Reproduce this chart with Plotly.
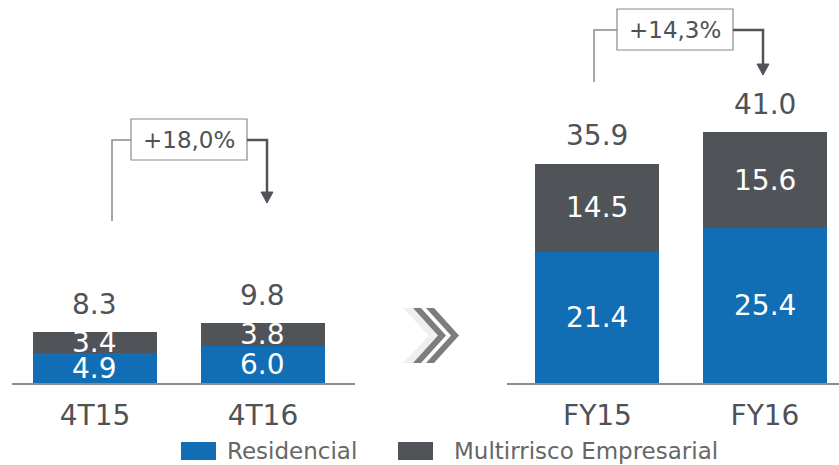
import plotly.graph_objects as go

# ---- data ----
quarters = ["4T15", "4T16"]
years = ["FY15", "FY16"]
series_names = ["Residencial", "Multirrisco Empresarial"]
res_q = [4.9, 6.0]
multi_q = [3.4, 3.8]
total_q = [8.3, 9.8]
res_y = [21.4, 25.4]
multi_y = [14.5, 15.6]
total_y = [35.9, 41.0]
growth_labels = ["+18,0%", "+14,3%"]

# ---- style ----
W, H = 839, 465
BLUE = "#116EB4"
DARK = "#505459"
TXT = "#4E5257"
AXIS = "#8C8C8C"
FONT = "DejaVu Sans"
BASE_PX = 383
PX_PER_UNIT = 6.11
YMAX = BASE_PX / PX_PER_UNIT


def px(x, y):
    return x / W, 1 - y / H


fig = go.Figure()

for xs, res, mul, ax in [(quarters, res_q, multi_q, "x"), (years, res_y, multi_y, "x2")]:
    fig.add_trace(go.Bar(x=list(range(len(xs))), y=res, name=series_names[0], marker_color=BLUE,
                         marker_line_width=0, width=0.74, xaxis=ax, yaxis="y", showlegend=False))
    fig.add_trace(go.Bar(x=list(range(len(xs))), y=mul, name=series_names[1], marker_color=DARK,
                         marker_line_width=0, width=0.74, xaxis=ax, yaxis="y", showlegend=False))

annotations = []
shapes = []

# segment and total labels
for xs, res, mul, tot, ax in [(quarters, res_q, multi_q, total_q, "x"), (years, res_y, multi_y, total_y, "x2")]:
    for i in range(len(xs)):
        annotations.append(dict(x=i, y=res[i] / 2, xref=ax, yref="y", text=f"{res[i]:.1f}", showarrow=False,
                                font=dict(family=FONT, size=28, color="white"), yanchor="middle"))
        annotations.append(dict(x=i, y=res[i] + mul[i] / 2, xref=ax, yref="y", text=f"{mul[i]:.1f}", showarrow=False,
                                font=dict(family=FONT, size=28, color="white"), yanchor="middle"))
        annotations.append(dict(x=i, y=tot[i], xref=ax, yref="y", text=f"{tot[i]:.1f}", showarrow=False,
                                font=dict(family=FONT, size=28, color=TXT), yanchor="middle", yshift=28))

# growth brackets (pixel geometry)
brackets = [
    # left line x, left bottom y, line y, box x0, box x1, box y0, box y1, arrow x, arrow tip y
    (112, 221, 140, 131, 247, 119, 160, 267, 203),
    (594, 82, 30, 617, 733, 9, 50, 763, 75),
]
for (lx, lb, ly, bx0, bx1, by0, by1, arx, tip), lab in zip(brackets, growth_labels):
    x0, y0 = px(lx, lb)
    x1, y1 = px(lx, ly)
    x2, _ = px(bx0, ly)
    shapes.append(dict(type="path", xref="paper", yref="paper",
                       path=f"M{x0},{y0} L{x1},{y1} L{x2},{y1}",
                       line=dict(color="#8A8A8A", width=1.5)))
    a0, b0 = px(bx0, by0)
    a1, b1 = px(bx1, by1)
    shapes.append(dict(type="rect", xref="paper", yref="paper", x0=a0, y0=b1, x1=a1, y1=b0,
                       line=dict(color="#8A8A8A", width=1.2), fillcolor="white"))
    annotations.append(dict(x=(a0 + a1) / 2, y=(b0 + b1) / 2, xref="paper", yref="paper", text=lab,
                            showarrow=False, font=dict(family=FONT, size=23, color=TXT),
                            xanchor="center", yanchor="middle"))
    r0, _ = px(bx1, ly)
    r1, _ = px(arx, ly)
    _, rt = px(arx, tip - 9)
    shapes.append(dict(type="path", xref="paper", yref="paper",
                       path=f"M{r0},{y1} L{r1},{y1} L{r1},{rt}",
                       line=dict(color="#505459", width=2.5)))
    t1x, t1y = px(arx - 6, tip - 11)
    t2x, t2y = px(arx + 6, tip - 11)
    t3x, t3y = px(arx, tip)
    shapes.append(dict(type="path", xref="paper", yref="paper",
                       path=f"M{t1x},{t1y} L{t2x},{t2y} L{t3x},{t3y} Z",
                       fillcolor="#505459", line=dict(color="#505459", width=1)))


# chevrons
def chevron(a, t, h, top, bot, color):
    mid = (top + bot) / 2
    pts = [(a, top), (a + t, top), (a + t + h, mid), (a + t, bot), (a, bot), (a + h, mid)]
    p = [px(x, y) for x, y in pts]
    path = "M" + " L".join(f"{x},{y}" for x, y in p) + " Z"
    return dict(type="path", xref="paper", yref="paper", path=path, fillcolor=color, line=dict(width=0))


shapes.append(chevron(403, 14, 26, 308, 363, "#EFEFEF"))
shapes.append(chevron(413, 8, 25, 308, 363, "#7D7D7D"))
shapes.append(chevron(426, 8, 25, 308, 363, "#7D7D7D"))

# legend (manual)
legend_items = [(181, 216, 225, series_names[0], BLUE), (398, 433, 452, series_names[1], DARK)]
for sx0, sx1, tx, name, col in legend_items:
    a0, b0 = px(sx0, 442)
    a1, b1 = px(sx1, 460)
    shapes.append(dict(type="rect", xref="paper", yref="paper", x0=a0, y0=b1, x1=a1, y1=b0,
                       fillcolor=col, line=dict(width=0)))
    tx_, ty_ = px(tx, 451)
    annotations.append(dict(x=tx_, y=ty_, xref="paper", yref="paper", text=name, showarrow=False,
                            xanchor="left", yanchor="middle", font=dict(family=FONT, size=23, color="#666666")))

xaxis_common = dict(showgrid=False, zeroline=False, showline=True, linecolor=AXIS, linewidth=2,
                    ticks="outside", ticklen=6, tickcolor="rgba(0,0,0,0)",
                    tickfont=dict(family=FONT, size=28, color=TXT), fixedrange=True)

fig.update_layout(
    width=W, height=H,
    margin=dict(l=0, r=0, t=0, b=0),
    paper_bgcolor="white", plot_bgcolor="white",
    barmode="stack",
    xaxis=dict(domain=[12 / W, 355 / W], range=[-0.494, 1.548], tickvals=[0, 1], ticktext=quarters,
               anchor="y", **xaxis_common),
    xaxis2=dict(domain=[507 / W, 1.0], range=[-0.540, 1.442], tickvals=[0, 1], ticktext=years,
                anchor="y", **xaxis_common),
    yaxis=dict(domain=[(H - BASE_PX) / H, 1.0], range=[0, YMAX], visible=False, fixedrange=True),
    shapes=shapes,
    annotations=annotations,
    showlegend=False,
)

fig.write_html("out.html", config={"displayModeBar": False, "staticPlot": True},
               post_script="document.body.style.margin='0px';document.body.style.overflow='hidden';")
